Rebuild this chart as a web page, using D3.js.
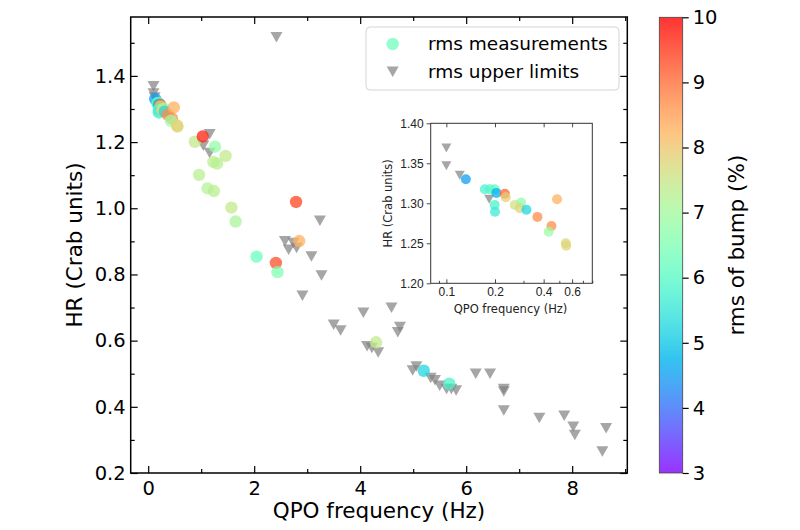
<!DOCTYPE html>
<html>
<head>
<meta charset="utf-8">
<script src="https://cdn.jsdelivr.net/npm/d3@7"></script>
<style>
  html, body { margin: 0; padding: 0; background: #fff; }
  svg { display: block; font-family: "DejaVu Sans", sans-serif; }
</style>
</head>
<body>
<svg id="chart" width="800" height="530"></svg>
<script>
// ---------------- DATA ----------------
// rms measurements: QPO frequency (Hz), hardness ratio (Crab units), rms of bump (%)
const measFreq = [0.132, 0.173, 0.186, 0.199, 0.204, 0.230, 0.233, 0.199, 0.200, 0.265,
                  0.290, 0.285, 0.313, 0.366, 0.484, 0.447, 0.430, 0.548, 0.552,
                  0.88, 1.03, 1.26, 1.46, 1.23, 1.30, 0.96, 1.12, 1.24, 1.57, 1.65,
                  2.79, 2.85, 2.045, 2.41, 2.44, 4.30, 5.20, 5.68];
const measHR   = [1.330, 1.3175, 1.3175, 1.3175, 1.313, 1.312, 1.3075, 1.298, 1.2895, 1.298,
                  1.301, 1.294, 1.292, 1.283, 1.305, 1.2716, 1.2645, 1.250, 1.247,
                  1.201, 1.217, 1.186, 1.158, 1.140, 1.135, 1.101, 1.060, 1.052, 1.002, 0.960,
                  1.019, 0.901, 0.854, 0.835, 0.807, 0.595, 0.509, 0.470];
const measRms  = [4.5, 5.8, 5.9, 6.0, 4.7, 9.1, 7.9, 5.8, 5.6, 7.6,
                  6.7, 7.8, 5.2, 8.7, 8.3, 8.7, 6.9, 7.8, 7.8,
                  7.4, 9.7, 6.8, 7.4, 7.3, 7.3, 7.3, 7.2, 7.3, 7.4, 7.1,
                  9.4, 8.3, 6.2, 9.3, 6.5, 7.4, 5.2, 5.8];
// rms upper limits
const limFreq = [0.100, 0.100, 0.121, 0.184, 2.42, 1.16, 1.04, 1.16, 3.24,
                 2.58, 2.74, 2.65, 2.80, 3.08, 3.27, 2.91, 4.06, 3.50, 3.63,
                 4.13, 4.22, 4.34, 4.59, 4.75, 4.71, 4.99, 5.06, 5.33, 5.41, 5.50,
                 5.63, 5.72, 5.81, 6.18, 6.45, 6.71, 6.71, 6.71, 7.38, 7.85,
                 8.02, 8.05, 8.64, 8.57];
const limHR   = [1.369, 1.347, 1.335, 1.305, 1.517, 1.224, 1.189, 1.167, 0.962,
                 0.900, 0.895, 0.875, 0.880, 0.854, 0.797, 0.736, 0.684, 0.648, 0.631,
                 0.583, 0.578, 0.564, 0.699, 0.641, 0.625, 0.510, 0.522, 0.487, 0.480, 0.464,
                 0.454, 0.454, 0.449, 0.500, 0.500, 0.454, 0.446, 0.389, 0.366, 0.373,
                 0.340, 0.315, 0.335, 0.265];

const xMajorTicks = [0, 2, 4, 6, 8];
const xMinorTicks = [1, 3, 5, 7, 9];
const yMajorTicks = [0.2, 0.4, 0.6, 0.8, 1.0, 1.2, 1.4];
const yMinorTicks = [0.3, 0.5, 0.7, 0.9, 1.1, 1.3, 1.5];
const cbTicks = [3, 4, 5, 6, 7, 8, 9, 10];
const insetXTicks = [0.1, 0.2, 0.4, 0.6];
const insetXMinor = [0.09, 0.3, 0.5, 0.7, 0.8];
const insetYTicks = [1.20, 1.25, 1.30, 1.35, 1.40];
const legendLabels = ["rms measurements", "rms upper limits"];

const meas = measFreq.map((f, i) => ({f, hr: measHR[i], rms: measRms[i]}));
const lims = limFreq.map((f, i) => ({f, hr: limHR[i]}));

// matplotlib "rainbow" colormap
function rainbow(t) {
  t = Math.max(0, Math.min(1, t));
  const r = Math.min(1, Math.abs(2 * t - 0.5));
  const g = Math.sin(Math.PI * t);
  const b = Math.cos(Math.PI * t / 2);
  return d3.rgb(r * 255, g * 255, b * 255).formatHex();
}
const cNorm = d3.scaleLinear().domain([3, 10]).range([0, 1]).clamp(true);
const colorOf = v => rainbow(cNorm(v));

// ---------------- LAYOUT ----------------
const svg = d3.select("#chart");
const P = {left: 130.7, right: 627.3, top: 17, bottom: 473};
const x = d3.scaleLinear().domain([-0.33, 9.04]).range([P.left, P.right]);
const y = d3.scaleLinear().domain([0.2, 1.578]).range([P.bottom, P.top]);

const FONT_TICK = 19.5, FONT_LABEL = 21.5, FONT_LEG = 18.5;

function styleAxis(g, fs) {
  g.select(".domain").remove();
  g.selectAll(".tick line").attr("stroke", "#000").attr("stroke-width", 1.2);
  g.selectAll(".tick text").attr("fill", "#000").style("font-size", fs + "px")
    .style("font-family", "DejaVu Sans");
}

// triangle-down path centered on bbox
function triPath(w, h) {
  return `M${-w/2},${-h/2}L${w/2},${-h/2}L0,${h/2}Z`;
}

// ---------------- MAIN AXES ----------------
const main = svg.append("g");

// ticks (inward)
main.append("g").attr("transform", `translate(0,${P.bottom})`)
  .call(d3.axisBottom(x).tickValues(xMajorTicks).tickSize(-7).tickPadding(8).tickFormat(d3.format("d")))
  .call(g => styleAxis(g, FONT_TICK));
main.append("g").attr("transform", `translate(0,${P.bottom})`)
  .call(d3.axisBottom(x).tickValues(xMinorTicks).tickSize(-4).tickFormat(""))
  .call(g => styleAxis(g, FONT_TICK));
main.append("g").attr("transform", `translate(0,${P.top})`)
  .call(d3.axisTop(x).tickValues(xMajorTicks).tickSize(-7).tickFormat(""))
  .call(g => styleAxis(g, FONT_TICK));
main.append("g").attr("transform", `translate(0,${P.top})`)
  .call(d3.axisTop(x).tickValues(xMinorTicks).tickSize(-4).tickFormat(""))
  .call(g => styleAxis(g, FONT_TICK));

main.append("g").attr("transform", `translate(${P.left},0)`)
  .call(d3.axisLeft(y).tickValues(yMajorTicks).tickSize(-7).tickPadding(5).tickFormat(d3.format(".1f")))
  .call(g => styleAxis(g, FONT_TICK));
main.append("g").attr("transform", `translate(${P.left},0)`)
  .call(d3.axisLeft(y).tickValues(yMinorTicks).tickSize(-4).tickFormat(""))
  .call(g => styleAxis(g, FONT_TICK));
main.append("g").attr("transform", `translate(${P.right},0)`)
  .call(d3.axisRight(y).tickValues(yMajorTicks).tickSize(-7).tickFormat(""))
  .call(g => styleAxis(g, FONT_TICK));
main.append("g").attr("transform", `translate(${P.right},0)`)
  .call(d3.axisRight(y).tickValues(yMinorTicks).tickSize(-4).tickFormat(""))
  .call(g => styleAxis(g, FONT_TICK));

// data
svg.append("defs").append("clipPath").attr("id", "mainClip")
  .append("rect").attr("x", P.left).attr("y", P.top)
  .attr("width", P.right - P.left).attr("height", P.bottom - P.top);

const mainData = main.append("g").attr("clip-path", "url(#mainClip)");
mainData.selectAll("path.lim").data(lims).join("path")
  .attr("class", "lim")
  .attr("d", triPath(12, 10.5))
  .attr("transform", d => `translate(${x(d.f)},${y(d.hr)})`)
  .attr("fill", "#808080").attr("fill-opacity", 0.7);
mainData.selectAll("circle.meas").data(meas).join("circle")
  .attr("class", "meas")
  .attr("cx", d => x(d.f)).attr("cy", d => y(d.hr)).attr("r", 6.2)
  .attr("fill", d => colorOf(d.rms)).attr("fill-opacity", 0.75);

// frame
main.append("rect").attr("x", P.left).attr("y", P.top)
  .attr("width", P.right - P.left).attr("height", P.bottom - P.top)
  .attr("fill", "none").attr("stroke", "#000").attr("stroke-width", 1.5);

// axis labels
main.append("text").attr("x", (P.left + P.right) / 2).attr("y", 518)
  .attr("text-anchor", "middle").style("font-size", FONT_LABEL + "px")
  .text("QPO frequency (Hz)");
main.append("text").attr("transform", `translate(82,${(P.top + P.bottom) / 2}) rotate(-90)`)
  .attr("text-anchor", "middle").style("font-size", FONT_LABEL + "px")
  .text("HR (Crab units)");

// legend
const leg = main.append("g");
leg.append("rect").attr("x", 366).attr("y", 27).attr("width", 253).attr("height", 63)
  .attr("rx", 4).attr("fill", "#fff").attr("fill-opacity", 0.8)
  .attr("stroke", "#d5d5d5").attr("stroke-width", 1);
leg.append("circle").attr("cx", 392.7).attr("cy", 44).attr("r", 6.2)
  .attr("fill", colorOf(6.3)).attr("fill-opacity", 0.75);
leg.append("path").attr("d", triPath(12, 10.5)).attr("transform", "translate(392.7,71.7)")
  .attr("fill", "#808080").attr("fill-opacity", 0.7);
leg.selectAll("text").data(legendLabels).join("text")
  .attr("x", 428).attr("y", (d, i) => 44 + i * 27.7).attr("dy", "0.35em")
  .style("font-size", FONT_LEG + "px").attr("fill", "#000").text(d => d);

// ---------------- INSET ----------------
const I = {left: 430.7, right: 592.3, top: 123.3, bottom: 283.3};
const ix = d3.scaleLog().domain([0.08, 0.8]).range([I.left, I.right]);
const iy = d3.scaleLinear().domain([1.2, 1.4]).range([I.bottom, I.top]);
const inset = svg.append("g");
inset.append("rect").attr("x", I.left).attr("y", I.top)
  .attr("width", I.right - I.left).attr("height", I.bottom - I.top).attr("fill", "#fff");
svg.select("defs").append("clipPath").attr("id", "insetClip")
  .append("rect").attr("x", I.left).attr("y", I.top)
  .attr("width", I.right - I.left).attr("height", I.bottom - I.top);
const insetData = inset.append("g").attr("clip-path", "url(#insetClip)");
insetData.selectAll("path.lim").data(lims).join("path")
  .attr("class", "lim")
  .attr("d", triPath(10, 9))
  .attr("transform", d => `translate(${ix(d.f)},${iy(d.hr)})`)
  .attr("fill", "#808080").attr("fill-opacity", 0.7);
insetData.selectAll("circle.meas").data(meas).join("circle")
  .attr("class", "meas")
  .attr("cx", d => ix(d.f)).attr("cy", d => iy(d.hr)).attr("r", 5)
  .attr("fill", d => colorOf(d.rms)).attr("fill-opacity", 0.75);

function styleInset(g) {
  g.select(".domain").remove();
  g.selectAll(".tick line").attr("stroke", "#333").attr("stroke-width", 0.9);
  g.selectAll(".tick text").attr("fill", "#222").style("font-size", "12px");
}
inset.append("g").attr("transform", `translate(0,${I.bottom})`)
  .call(d3.axisBottom(ix).tickValues(insetXTicks).tickSize(-4).tickPadding(4).tickFormat(d3.format(".1f")))
  .call(styleInset);
inset.append("g").attr("transform", `translate(0,${I.bottom})`)
  .call(d3.axisBottom(ix).tickValues(insetXMinor).tickSize(-2.5).tickFormat(""))
  .call(styleInset);
inset.append("g").attr("transform", `translate(0,${I.top})`)
  .call(d3.axisTop(ix).tickValues(insetXTicks).tickSize(-4).tickFormat(""))
  .call(styleInset);
inset.append("g").attr("transform", `translate(${I.left},0)`)
  .call(d3.axisLeft(iy).tickValues(insetYTicks).tickSize(4).tickPadding(3).tickFormat(d3.format(".2f")))
  .call(styleInset);
inset.append("rect").attr("x", I.left).attr("y", I.top)
  .attr("width", I.right - I.left).attr("height", I.bottom - I.top)
  .attr("fill", "none").attr("stroke", "#333").attr("stroke-width", 1);
inset.append("text").attr("x", (I.left + I.right) / 2 - 1).attr("y", 313)
  .attr("text-anchor", "middle").style("font-size", "11.5px").attr("fill", "#222")
  .text("QPO frequency (Hz)");
inset.append("text").attr("transform", `translate(392,${(I.top + I.bottom) / 2}) rotate(-90)`)
  .attr("text-anchor", "middle").style("font-size", "11.5px").attr("fill", "#222")
  .text("HR (Crab units)");

// ---------------- COLORBAR ----------------
const CB = {left: 659.3, width: 23.4, top: 17.3, bottom: 473};
const cy = d3.scaleLinear().domain([3, 10]).range([CB.bottom, CB.top]);
const grad = svg.select("defs").append("linearGradient").attr("id", "cbGrad")
  .attr("x1", 0).attr("y1", 1).attr("x2", 0).attr("y2", 0);
d3.range(0, 1.0001, 0.05).forEach(t => {
  grad.append("stop").attr("offset", t).attr("stop-color", rainbow(t));
});
const cb = svg.append("g");
cb.append("rect").attr("x", CB.left).attr("y", CB.top).attr("width", CB.width)
  .attr("height", CB.bottom - CB.top).attr("fill", "url(#cbGrad)").attr("fill-opacity", 0.8);
cb.append("rect").attr("x", CB.left).attr("y", CB.top).attr("width", CB.width)
  .attr("height", CB.bottom - CB.top).attr("fill", "none").attr("stroke", "#444").attr("stroke-width", 0.8);
cb.append("g").attr("transform", `translate(${CB.left + CB.width},0)`)
  .call(d3.axisRight(cy).tickValues(cbTicks).tickSize(6).tickPadding(4).tickFormat(d3.format("d")))
  .call(g => styleAxis(g, FONT_TICK));
cb.append("text").attr("transform", `translate(744,${(CB.top + CB.bottom) / 2}) rotate(-90)`)
  .attr("text-anchor", "middle").style("font-size", FONT_LABEL + "px")
  .text("rms of bump (%)");
</script>
</body>
</html>
